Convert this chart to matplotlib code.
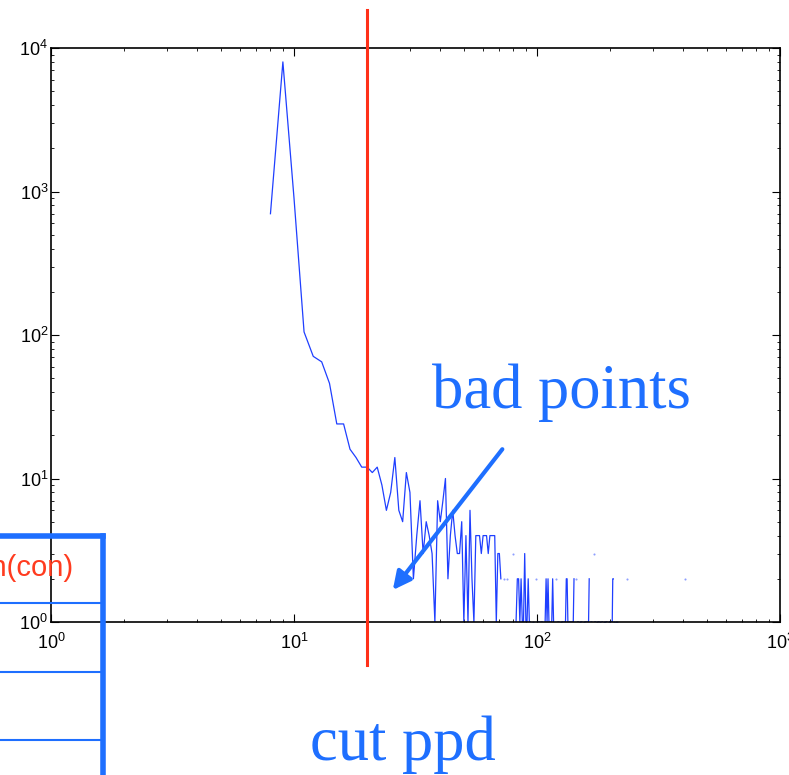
import numpy as np
import matplotlib
matplotlib.use('Agg')
import matplotlib.pyplot as plt
from matplotlib.lines import Line2D

plt.rcParams['font.family'] = ['Liberation Sans', 'DejaVu Sans']
plt.rcParams['mathtext.default'] = 'regular'

# ppd bins (integer) and counts, 0 = empty bin
ppd_main = np.arange(8, 216)
counts_main = [700, 8000,
               900, 105, 71, 65, 46, 24, 24, 16, 14, 12,
               12, 11, 12, 9, 6, 8, 14, 6, 5, 11,
               8, 2, 4, 7, 3, 5, 4, 3, 1, 7,
               5, 7, 10, 2, 4, 6, 4, 3, 3, 5,
               1, 4, 1, 6, 2, 1, 4, 4, 4, 3,
               4, 4, 4, 3, 4, 4, 4, 4, 1, 3,
               3, 2, 0, 2, 0, 2, 0, 0, 0, 0,
               3, 0, 1, 2, 2, 1, 2, 1, 1, 3,
               1, 1, 2, 1, 1, 0, 1, 0, 0, 2,
               0, 1, 1, 0, 1, 1, 0, 0, 1, 2,
               1, 2, 1, 1, 1, 1, 2, 1, 0, 0,
               2, 0, 1, 1, 0, 1, 0, 1, 1, 0,
               1, 1, 2, 2, 1, 0, 1, 1, 0, 1,
               1, 1, 2, 0, 0, 2, 0, 1, 1, 0,
               1, 0, 1, 1, 0, 0, 1, 0, 1, 1,
               0, 1, 1, 1, 2, 0, 0, 1, 1, 0,
               0, 3, 0, 1, 1, 0, 1, 0, 0, 1,
               1, 0, 1, 0, 0, 1, 1, 0, 1, 0,
               0, 1, 0, 1, 1, 0, 0, 1, 0, 1,
               1, 0, 0, 1, 1, 2, 2, 0, 1, 0,
               0, 1, 0, 0, 1, 0]
ppd_tail = [234, 235, 236, 405, 406, 407]
counts_tail = [0, 2, 0, 0, 2, 0]

cut_ppd = 20
box_label = 'ln(con)'

ppd = np.concatenate([ppd_main, ppd_tail]).astype(float)
counts = np.array(counts_main + counts_tail, dtype=float)
y = np.where(counts > 0, counts, np.nan)

# points with empty bins on both sides only show up as a faint dot
ok = ~np.isnan(y)
prev_ok = np.r_[False, ok[:-1]]
next_ok = np.r_[ok[1:], False]
iso = ok & ~prev_ok & ~next_ok

W, H = 789, 775
fig = plt.figure(figsize=(W / 100, H / 100), dpi=100)
ax = fig.add_axes([51 / W, (H - 622) / H, 729 / W, 574 / H])
ax.set_xscale('log')
ax.set_yscale('log')
ax.set_xlim(1, 1000)
ax.set_ylim(1, 1e4)

ax.plot(ppd, y, color='#1f3fff', lw=0.9)
ax.plot(ppd[iso], y[iso], 'o', ms=1.5, color='#1f3fff', alpha=0.5, mec='none')

ax.axvline(cut_ppd, ymin=-43 / 574, ymax=612 / 574, color='#ff3019', lw=2.2,
           clip_on=False, zorder=3)

ax.tick_params(which='both', direction='in', top=True, right=True, labelsize=13)
ax.tick_params(which='major', length=5.5, width=0.8)
ax.tick_params(which='minor', length=2.5, width=0.6)
ax.tick_params(axis='x', pad=8)
ax.tick_params(axis='y', pad=2)
for s in ax.spines.values():
    s.set_linewidth(1.2)

blue = '#1e6fff'
ax.annotate('', xy=(25.5, 1.67), xytext=(72, 16),
            arrowprops=dict(arrowstyle='-|>', color=blue, lw=3,
                            mutation_scale=27, shrinkA=0, shrinkB=0))

fig.text(432 / W, 1 - 408 / H, 'bad points', family='Liberation Serif',
         fontsize=45, color=blue, va='baseline')
fig.text(310 / W, 1 - 760 / H, 'cut ppd', family='Liberation Serif',
         fontsize=45, color=blue, va='baseline')

# box in the lower left corner
bx = 102.7 / W
by = 1 - 535.5 / H
fig.add_artist(Line2D([-0.01, bx], [by, by], transform=fig.transFigure,
                      color=blue, lw=4, solid_capstyle='projecting'))
fig.add_artist(Line2D([bx, bx], [by, -0.01], transform=fig.transFigure,
                      color=blue, lw=4, solid_capstyle='projecting'))
for yy in [603, 672, 740]:
    fig.add_artist(Line2D([-0.01, bx], [1 - yy / H, 1 - yy / H],
                          transform=fig.transFigure, color=blue, lw=1.5))
fig.text(73 / W, 1 - 568 / H, box_label, ha='right', va='center',
         fontsize=21, color='#ff3b1f')

fig.savefig('out.png', dpi=100)
